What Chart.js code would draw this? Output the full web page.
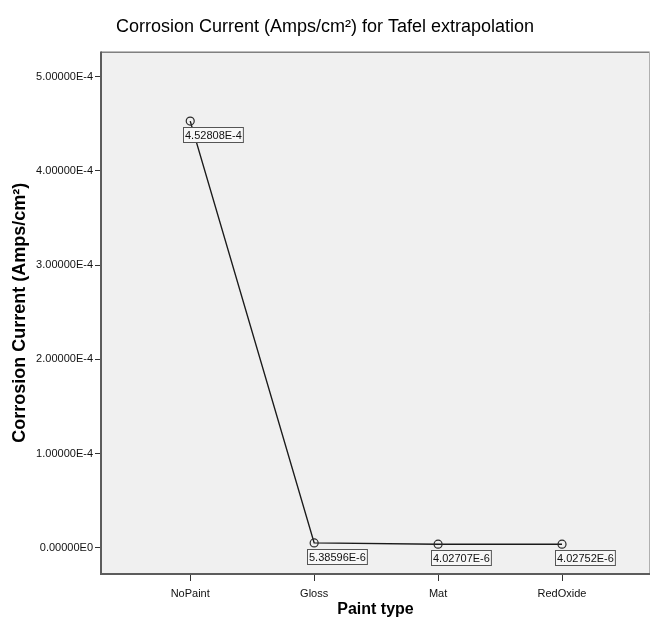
<!DOCTYPE html>
<html>
<head>
<meta charset="utf-8">
<script src="https://cdn.jsdelivr.net/npm/chart.js@4/dist/chart.umd.min.js"></script>
<style>
  html, body { margin: 0; padding: 0; background: #ffffff; }
  #wrap { width: 651px; height: 631px; position: relative; }
</style>
</head>
<body>
<div id="wrap"><canvas id="c" width="651" height="631"></canvas></div>
<script>
const categories = ["NoPaint", "Gloss", "Mat", "RedOxide"];
const corrosionCurrent = [4.52808e-4, 5.38596e-6, 4.02707e-6, 4.02752e-6];
const yTickValues = [0, 1e-4, 2e-4, 3e-4, 4e-4, 5e-4];
const chartTitle = "Corrosion Current (Amps/cm\u00B2) for Tafel extrapolation";
const yTitle = "Corrosion Current (Amps/cm\u00B2)";
const xTitle = "Paint type";

function sciFmt(v) {
  return v.toExponential(5).replace("e+", "E").replace("e", "E");
}

const FONT = "'Liberation Sans', Arial, sans-serif";

const framePlugin = {
  id: 'frame',
  beforeDatasetsDraw(chart) {
    const {ctx, chartArea: a} = chart;
    ctx.save();
    ctx.fillStyle = '#f0f0f0';
    ctx.fillRect(a.left, a.top, a.right - a.left, a.bottom - a.top);
    ctx.strokeStyle = '#808080';
    ctx.lineWidth = 1.5;
    ctx.beginPath();
    ctx.moveTo(a.left, a.top + 0.75);
    ctx.lineTo(a.right - 0.75, a.top + 0.75);
    ctx.stroke();
    ctx.strokeStyle = '#b0b0b0';
    ctx.lineWidth = 1;
    ctx.beginPath();
    ctx.moveTo(a.right - 0.5, a.top);
    ctx.lineTo(a.right - 0.5, a.bottom);
    ctx.stroke();
    ctx.strokeStyle = '#5c5c5c';
    ctx.lineWidth = 2;
    ctx.beginPath();
    ctx.moveTo(a.left, a.top);
    ctx.lineTo(a.left, a.bottom);
    ctx.lineTo(a.right, a.bottom);
    ctx.stroke();
    ctx.restore();
  }
};

const labelPlugin = {
  id: 'valueLabels',
  afterDatasetsDraw(chart) {
    const {ctx} = chart;
    const meta = chart.getDatasetMeta(0);
    ctx.save();
    ctx.font = "11px " + FONT;
    ctx.textBaseline = 'middle';
    ctx.textAlign = 'left';
    meta.data.forEach((pt, i) => {
      const txt = sciFmt(corrosionCurrent[i]);
      const w = ctx.measureText(txt).width + 3;
      const h = 15;
      const bx = Math.round(pt.x) - 7 + 0.5;
      const by = Math.round(pt.y) + 6 + 0.5;
      ctx.fillStyle = '#f7f7f7';
      ctx.fillRect(bx, by, w, h);
      ctx.strokeStyle = '#555555';
      ctx.lineWidth = 1;
      ctx.strokeRect(bx, by, w, h);
      ctx.fillStyle = '#111111';
      ctx.fillText(txt, bx + 1.5, by + h / 2 + 0.5);
    });
    ctx.restore();
  }
};

new Chart(document.getElementById('c'), {
  type: 'line',
  data: {
    datasets: [{
      data: corrosionCurrent.map((v, i) => ({x: i, y: v})),
      borderColor: '#1a1a1a',
      borderWidth: 1.4,
      pointRadius: 4,
      pointBorderWidth: 1.2,
      pointBorderColor: '#2a2a2a',
      pointBackgroundColor: 'rgba(0,0,0,0)',
      tension: 0,
      fill: false,
      clip: false
    }]
  },
  options: {
    responsive: false,
    animation: false,
    layout: { autoPadding: false, padding: { left: 0, right: 1, top: 0, bottom: 0 } },
    plugins: {
      legend: { display: false },
      tooltip: { enabled: false },
      title: {
        display: true,
        text: chartTitle,
        color: '#000000',
        font: { family: FONT, size: 18, weight: 'normal' },
        padding: { top: 16, bottom: 14 }
      }
    },
    scales: {
      x: {
        type: 'linear',
        min: -0.72,
        max: 3.71,
        afterBuildTicks(scale) { scale.ticks = categories.map((c, i) => ({value: i})); },
        afterFit(scale) { scale.height = 57; },
        ticks: {
          callback: (v) => categories[v] ?? '',
          color: '#111111',
          font: { family: FONT, size: 11 },
          padding: 6,
          maxRotation: 0,
          autoSkip: false
        },
        grid: { display: true, drawOnChartArea: false, drawTicks: true, tickLength: 7, color: '#333333', lineWidth: 1 },
        border: { display: false },
        title: {
          display: true,
          text: xTitle,
          color: '#000000',
          font: { family: FONT, size: 16, weight: 'bold' },
          padding: { top: 4, bottom: 12 }
        }
      },
      y: {
        type: 'linear',
        min: -2.76e-5,
        max: 5.265e-4,
        afterBuildTicks(scale) { scale.ticks = yTickValues.map(v => ({value: v})); },
        afterFit(scale) { scale.width = 101; },
        ticks: {
          callback: (v) => sciFmt(v),
          color: '#111111',
          font: { family: FONT, size: 11 },
          padding: 2
        },
        grid: { display: true, drawOnChartArea: false, drawTicks: true, tickLength: 6, color: '#333333', lineWidth: 1 },
        border: { display: false },
        title: {
          display: true,
          text: yTitle,
          color: '#000000',
          font: { family: FONT, size: 18, weight: 'bold' },
          padding: { top: 9, bottom: 0 }
        }
      }
    }
  },
  plugins: [framePlugin, labelPlugin]
});
</script>
</body>
</html>
